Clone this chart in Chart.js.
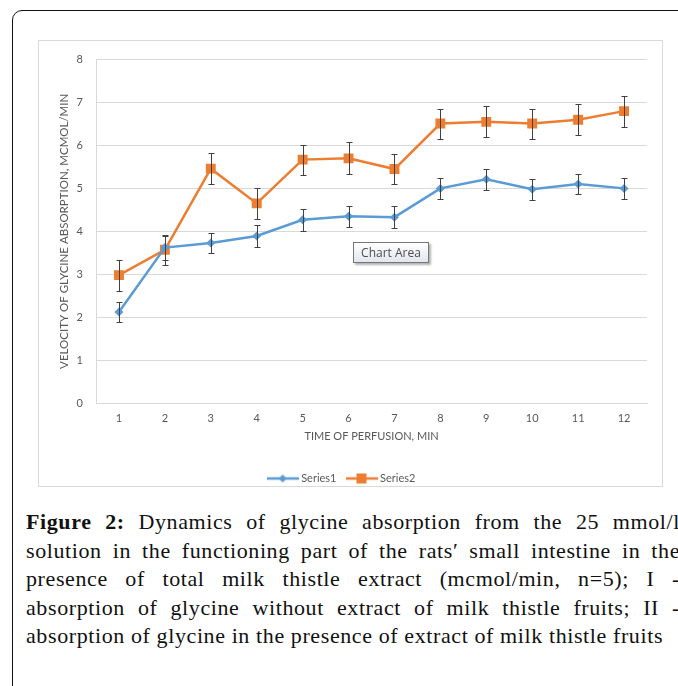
<!DOCTYPE html>
<html>
<head>
<meta charset="utf-8">
<script src="https://cdn.jsdelivr.net/npm/chart.js@4"></script>
<style>
  html, body { margin:0; padding:0; background:#fff; width:678px; height:686px; overflow:hidden; position:relative; }
  #frame { position:absolute; left:12px; top:10px; width:720px; height:720px; border:1.5px solid #111; border-radius:10px; box-sizing:border-box; }
  #wrap { position:absolute; left:38px; top:40px; width:625px; height:454px; }
  #box { position:absolute; left:38px; top:40px; width:625px; height:447px; border:1px solid #d9d9d9; box-sizing:border-box; pointer-events:none; }
  #tip { position:absolute; left:353px; top:242px; width:76px; height:21px; box-sizing:border-box; border:1px solid #767676;
         background:linear-gradient(#ffffff,#e4e5f0); box-shadow:2px 2px 2px rgba(0,0,0,0.3);
         font:12px "Open Sans", sans-serif; color:#4c4c4c; text-align:center; line-height:19px; }
  #caption { position:absolute; left:26px; top:508px; width:654px; font-family:"Liberation Serif", serif; font-size:22px; letter-spacing:0.6px; color:#111; line-height:28.5px; }
  #caption div { text-align:justify; text-align-last:justify; white-space:nowrap; }
  #caption div.last { text-align-last:left; }
</style>
</head>
<body>
<div id="frame"></div>
<div id="wrap"><canvas id="glycineChart" width="625" height="454"></canvas></div>
<div id="box"></div>
<div id="tip">Chart Area</div>
<div id="caption">
  <div><b>Figure 2:</b> Dynamics of glycine absorption from the 25 mmol/l</div>
  <div>solution in the functioning part of the rats′ small intestine in the</div>
  <div>presence of total milk thistle extract (mcmol/min, n=5); I -</div>
  <div>absorption of glycine without extract of milk thistle fruits; II -</div>
  <div class="last">absorption of glycine in the presence of extract of milk thistle fruits</div>
</div>
<script>
var minutes = ["1","2","3","4","5","6","7","8","9","10","11","12"];
var series1 = [2.12, 3.62, 3.73, 3.89, 4.27, 4.35, 4.33, 5.00, 5.21, 4.98, 5.10, 5.00];
var series1Err = [0.24, 0.28, 0.24, 0.25, 0.26, 0.25, 0.25, 0.25, 0.25, 0.25, 0.24, 0.25];
var series2 = [2.98, 3.57, 5.46, 4.65, 5.67, 5.70, 5.45, 6.51, 6.55, 6.51, 6.60, 6.80];
var series2Err = [0.36, 0.35, 0.36, 0.36, 0.35, 0.37, 0.35, 0.35, 0.36, 0.35, 0.36, 0.36];
var yTicks = [0, 1, 2, 3, 4, 5, 6, 7, 8];

var blue = "#5B9BD5", orange = "#ED7D31", grey = "#595959";

// small legend samples: line with marker, like Excel
function legendSample(color, shape){
  var c = document.createElement("canvas");
  c.width = 32; c.height = 12;
  var g = c.getContext("2d");
  g.strokeStyle = color; g.lineWidth = 2.5;
  g.beginPath(); g.moveTo(0, 6); g.lineTo(32, 6); g.stroke();
  g.fillStyle = color;
  g.beginPath();
  if (shape === "diamond") { g.moveTo(16, 2); g.lineTo(20, 6); g.lineTo(16, 10); g.lineTo(12, 6); }
  else { g.rect(11, 1, 10, 10); }
  g.fill();
  return c;
}

var errorBars = {
  id: "errorBars",
  afterDatasetsDraw: function(chart){
    var ctx = chart.ctx, y = chart.scales.y;
    var errs = [series1Err, series2Err];
    ctx.save();
    ctx.strokeStyle = "#404040";
    ctx.lineWidth = 1;
    chart.data.datasets.forEach(function(ds, di){
      chart.getDatasetMeta(di).data.forEach(function(pt, i){
        var top = Math.round(y.getPixelForValue(ds.data[i] + errs[di][i])) + 0.5;
        var bot = Math.round(y.getPixelForValue(ds.data[i] - errs[di][i])) + 0.5;
        var x = Math.round(pt.x) + 0.5;
        ctx.beginPath();
        ctx.moveTo(x, top); ctx.lineTo(x, bot);
        ctx.moveTo(x - 3, top); ctx.lineTo(x + 3, top);
        ctx.moveTo(x - 3, bot); ctx.lineTo(x + 3, bot);
        ctx.stroke();
      });
    });
    ctx.restore();
  }
};

var ctx = document.getElementById("glycineChart").getContext("2d");
var glycineChart = new Chart(ctx, {
  type: "line",
  data: {
    labels: minutes,
    datasets: [{
      label: "Series1",
      data: series1,
      borderColor: blue,
      backgroundColor: blue,
      borderWidth: 2.5,
      pointStyle: "rectRot",
      pointRadius: 4.5,
      pointBorderWidth: 0,
      fill: false,
      lineTension: 0
    }, {
      label: "Series2",
      data: series2,
      borderColor: orange,
      backgroundColor: orange,
      borderWidth: 2.5,
      pointStyle: "rect",
      pointRadius: 7,
      pointBorderWidth: 0,
      fill: false,
      lineTension: 0
    }]
  },
  options: {
    responsive: false,
    animation: false,
    layout: { padding: { top: 15, right: 16, left: 0, bottom: 0 } },
    plugins: {
      tooltip: { enabled: false },
      legend: {
        position: "bottom",
        labels: {
          usePointStyle: true,
          pointStyleWidth: 26,
          padding: 12,
          color: grey,
          font: { family: "Lato", size: 11 },
          generateLabels: function(chart){
            return chart.data.datasets.map(function(ds, i){
              return {
                text: ds.label,
                datasetIndex: i,
                pointStyle: legendSample(ds.borderColor, i === 0 ? "diamond" : "square"),
                fillStyle: ds.borderColor,
                strokeStyle: ds.borderColor,
                lineWidth: 0,
                fontColor: grey
              };
            });
          }
        }
      }
    },
    scales: {
      x: {
        offset: true,
        grid: { display: false, drawTicks: false },
        border: { display: true, color: "#d9d9d9" },
        ticks: { color: grey, padding: 9, font: { family: "Lato", size: 11 } },
        title: { display: true, text: "TIME OF PERFUSION, MIN", color: grey,
                 font: { family: "Lato", size: 11 }, padding: { top: 0, bottom: 18 } },
        afterFit: function(s){ s.height = 58; }
      },
      y: {
        min: 0, max: 8,
        afterBuildTicks: function(s){ s.ticks = yTicks.map(function(v){ return { value: v }; }); },
        grid: { color: "#d9d9d9", drawTicks: false },
        border: { display: true, color: "#d9d9d9" },
        ticks: { color: grey, padding: 13, font: { family: "Lato", size: 11 } },
        title: { display: true, text: "VELOCITY OF GLYCINE ABSORPTION, MCMOL/MIN", color: grey,
                 font: { family: "Lato", size: 11.5 }, padding: { top: 19, bottom: 0 } },
        afterFit: function(s){ s.width = 58; }
      }
    }
  },
  plugins: [errorBars]
});
</script>
</body>
</html>
